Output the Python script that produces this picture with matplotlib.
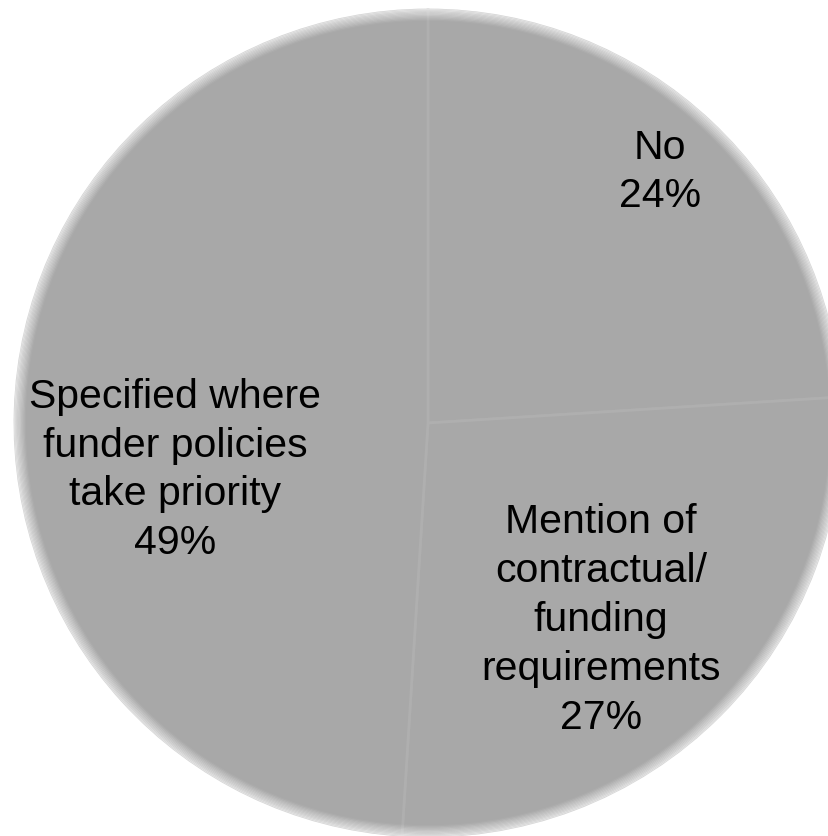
import matplotlib
matplotlib.use("Agg")
import matplotlib.pyplot as plt
from matplotlib.patches import Circle

categories = ["No", "Mention of\ncontractual/\nfunding\nrequirements", "Specified where\nfunder policies\ntake priority"]
values = [24, 27, 49]
pct_labels = ["24%", "27%", "49%"]

W, H = 829, 837
fig = plt.figure(figsize=(W / 100, H / 100), dpi=100)
ax = fig.add_axes([0, 0, 1, 1])
ax.set_xlim(0, W)
ax.set_ylim(0, H)
ax.set_aspect("equal")
ax.axis("off")

cx, cy, r = 428, H - 424, 413
wedges, _ = ax.pie(values, startangle=90, counterclock=False, center=(cx, cy), radius=r,
                   colors=["#a8a8a8"] * 3,
                   wedgeprops=dict(edgecolor="#afafaf", linewidth=2))
ax.set_xlim(0, W)
ax.set_ylim(0, H)

# soft glow edge
for i in range(10):
    ax.add_patch(Circle((cx, cy), r + 1 - i * 1.2, fill=False, edgecolor="white",
                        alpha=max(0.0, 0.45 - i * 0.045), linewidth=1.5))

font = dict(family=["Liberation Sans", "DejaVu Sans"], fontsize=29.5, color="black",
            ha="center", va="center", linespacing=1.36)
pos = [(660, 172), (601, 620), (175, 470)]
for (x, y), c, p in zip(pos, categories, pct_labels):
    ax.text(x, H - y, c + "\n" + p, **font)

fig.savefig("out.png", dpi=100)
